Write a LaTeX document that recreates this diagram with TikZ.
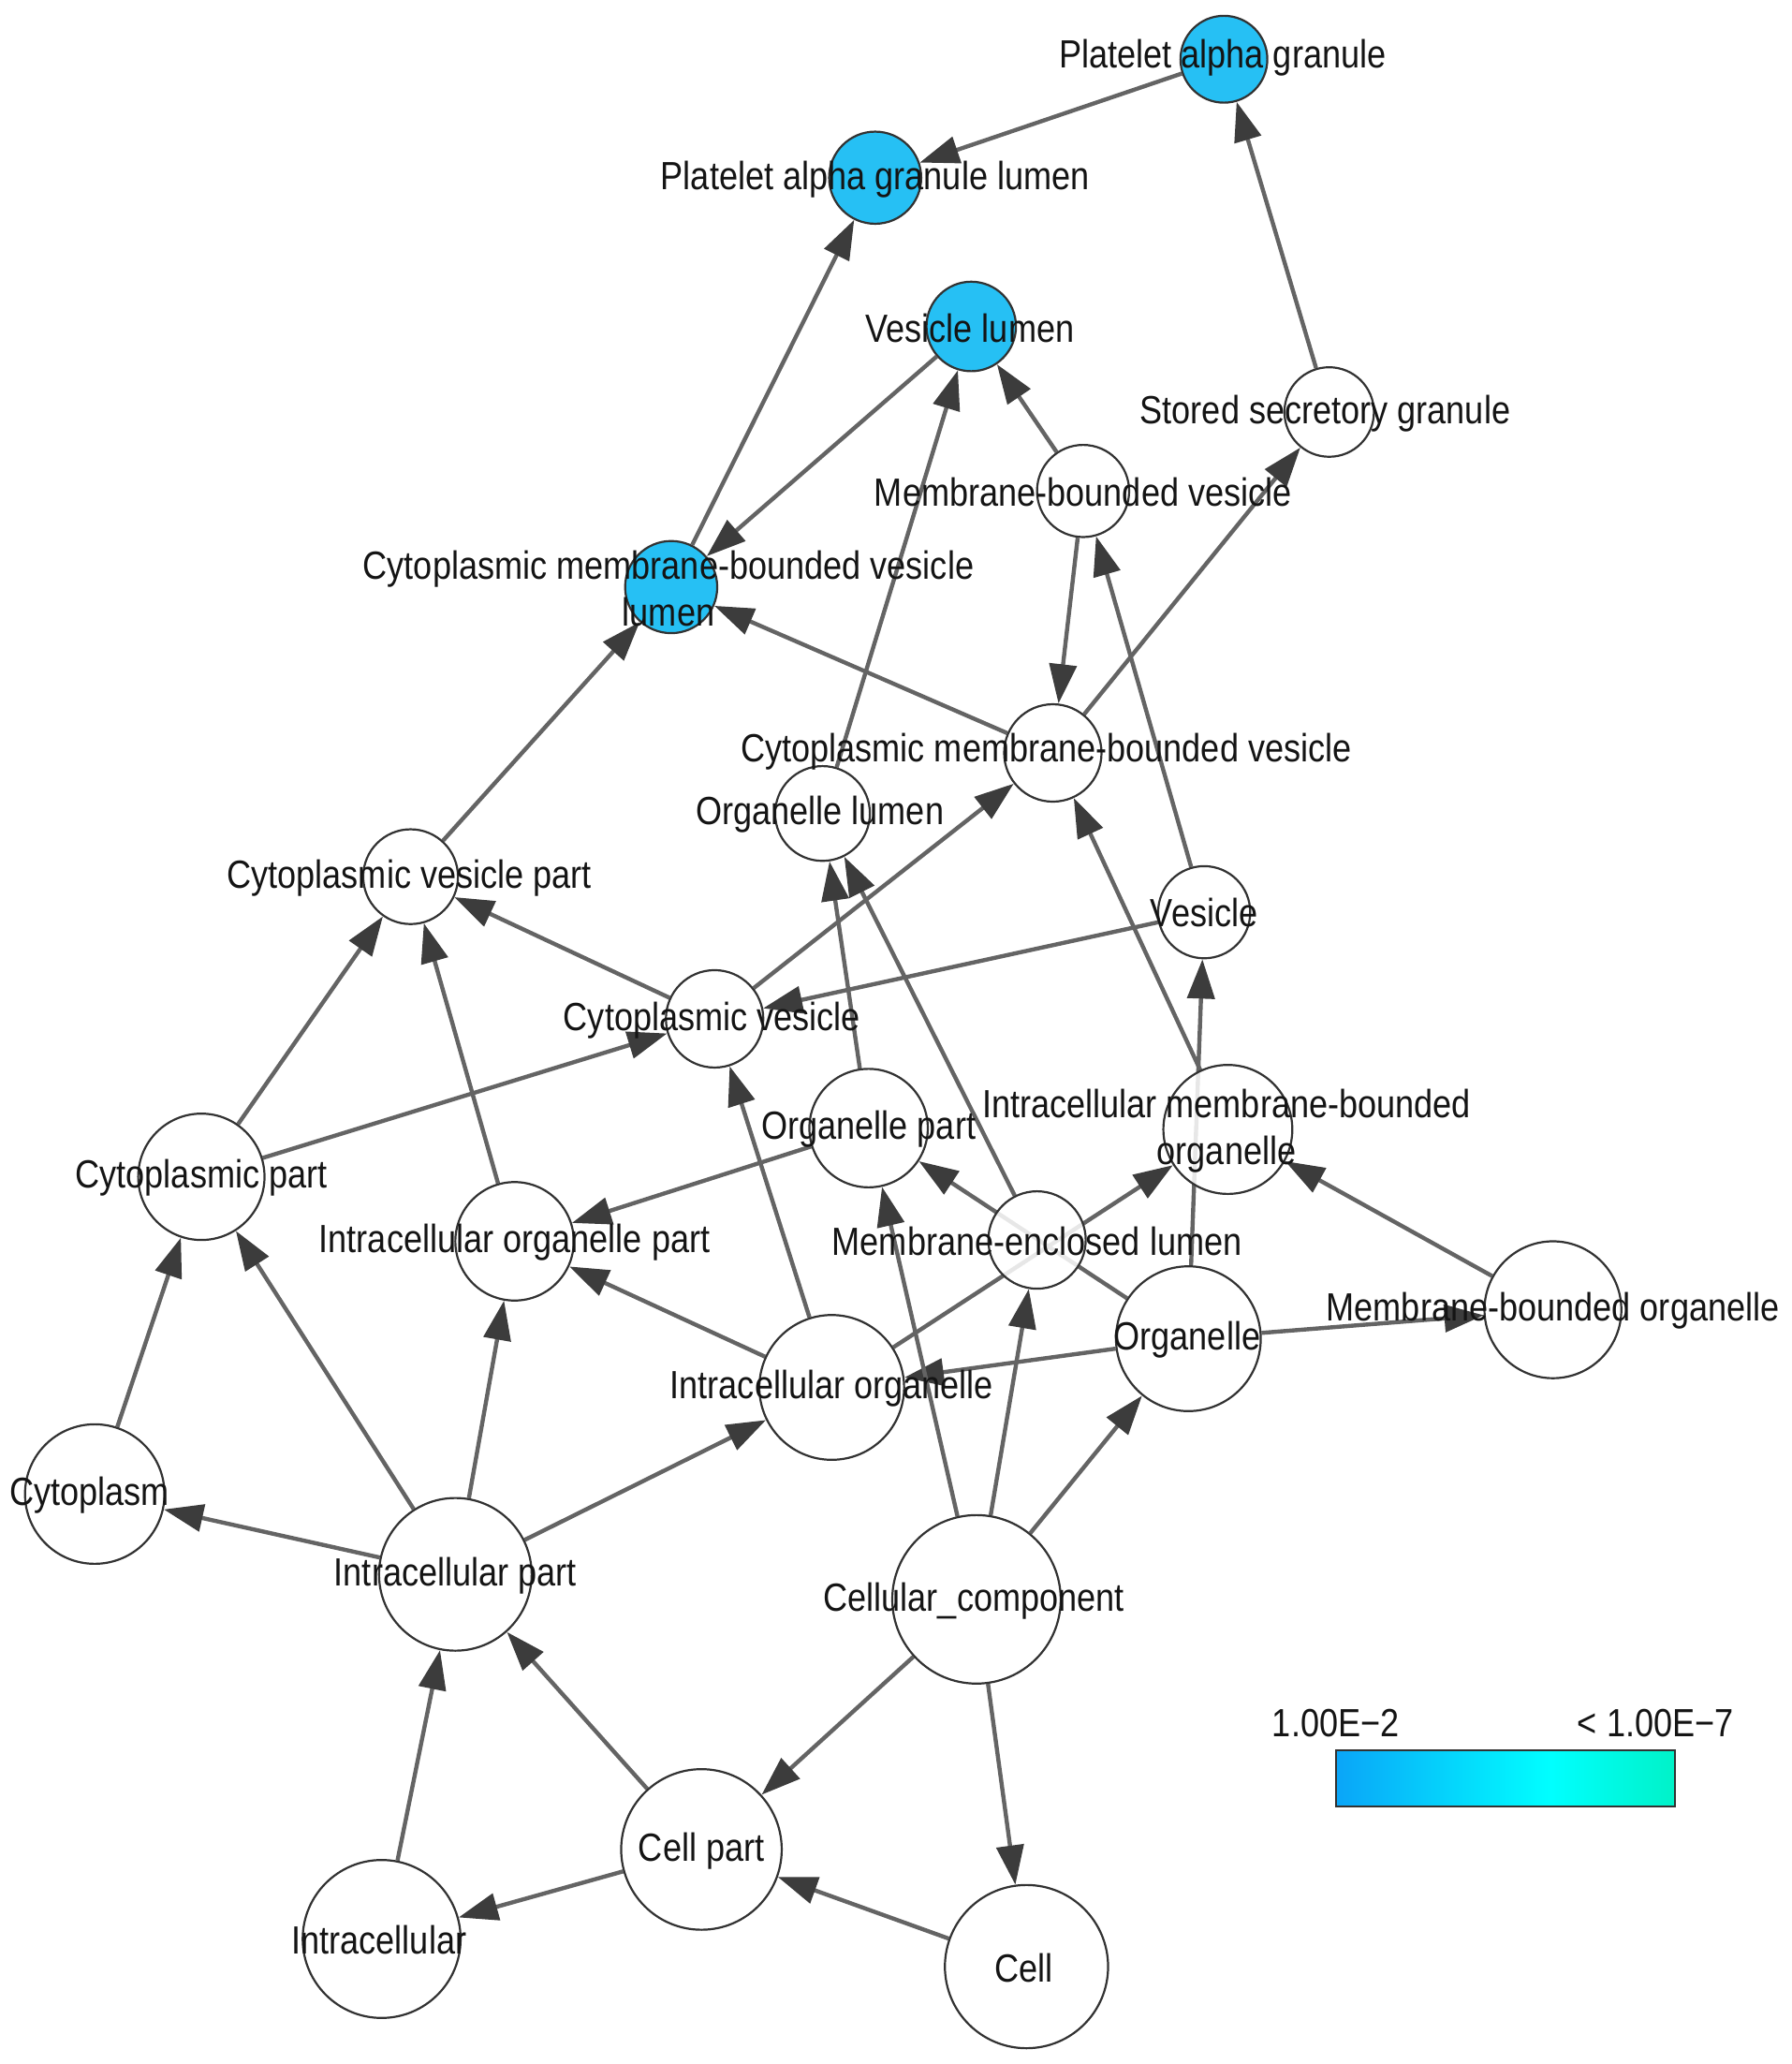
\documentclass[tikz,border=0pt]{standalone}
\usepackage{fontspec}
\setmainfont{Liberation Sans}[FakeStretch=0.86]
\usetikzlibrary{arrows.meta}
\definecolor{gonblue}{RGB}{38,192,244}
\definecolor{edgegray}{RGB}{100,100,100}
\definecolor{tipgray}{RGB}{60,60,60}
\definecolor{rimgray}{RGB}{50,50,50}
\definecolor{legA}{RGB}{10,165,248}
\definecolor{legB}{RGB}{0,255,255}
\definecolor{legC}{RGB}{0,242,200}
\pgfdeclarelayer{edgelayer}
\pgfsetlayers{edgelayer,main}
\begin{document}
\begin{tikzpicture}[x=0.7028pt,y=-0.7028pt,
  gonode/.style={circle,draw=rimgray,line width=1.1pt,fill=white,fill opacity=0.85,inner sep=0pt,minimum size={2*#1*0.7028pt}},
  hitnode/.style={gonode=#1,fill=gonblue,fill opacity=1},
  lbl/.style={text=black!92,font=\fontsize{21}{25}\selectfont,inner sep=0pt,align=center},
  edge/.style={draw=edgegray,line width=2.2pt,-{Triangle[length=21pt,width=14.5pt,color=tipgray,fill=tipgray]}}]
\useasboundingbox (0,0) rectangle (1361,1568);

% ---- nodes ----
\node[hitnode=33] (PAG)  at (930,45)   {};
\node[hitnode=35] (PAGL) at (665,135)  {};
\node[hitnode=34] (VL)   at (738,248)  {};
\node[gonode=34]  (SSG)  at (1010,313) {};
\node[gonode=35]  (MBV)  at (823,373)  {};
\node[hitnode=35] (CMBVL) at (510,446) {};
\node[gonode=37]  (CMBV) at (800,572)  {};
\node[gonode=36]  (OL)   at (625,618)  {};
\node[gonode=36]  (CVP)  at (312,666)  {};
\node[gonode=35]  (VES)  at (915,693)  {};
\node[gonode=37]  (CV)   at (543,774)  {};
\node[gonode=45]  (OP)   at (660,857)  {};
\node[gonode=49]  (IMBO) at (933,858)  {};
\node[gonode=48]  (CP)   at (153,894)  {};
\node[gonode=45]  (IOP)  at (391,943)  {};
\node[gonode=37]  (MEL)  at (788,942)  {};
\node[gonode=55]  (ORG)  at (903,1017) {};
\node[gonode=52]  (MBO)  at (1180,995) {};
\node[gonode=55]  (IO)   at (632,1054) {};
\node[gonode=53]  (CYT)  at (72,1135)  {};
\node[gonode=58]  (IP)   at (346,1196) {};
\node[gonode=64]  (CC)   at (742,1215) {};
\node[gonode=61]  (CPT)  at (533,1405) {};
\node[gonode=60]  (INT)  at (290,1473) {};
\node[gonode=62]  (CELL) at (780,1494) {};

% ---- edges ----
\begin{pgfonlayer}{edgelayer}
\draw[edge] (PAG) -- (PAGL);
\draw[edge] (SSG) -- (PAG);
\draw[edge] (CMBVL) -- (PAGL);
\draw[edge] (VL) -- (CMBVL);
\draw[edge] (OL) -- (VL);
\draw[edge] (MBV) -- (VL);
\draw[edge] (CMBV) -- (SSG);
\draw[edge] (MBV) -- (CMBV);
\draw[edge] (VES) -- (MBV);
\draw[edge] (CMBV) -- (CMBVL);
\draw[edge] (CVP) -- (CMBVL);
\draw[edge] (CV) -- (CMBV);
\draw[edge] (CV) -- (CVP);
\draw[edge] (VES) -- (CV);
\draw[edge] (IMBO) -- (CMBV);
\draw[edge] (ORG) -- (VES);
\draw[edge] (OP) -- (OL);
\draw[edge] (MEL) -- (OL);
\draw[edge] (CP) -- (CV);
\draw[edge] (CP) -- (CVP);
\draw[edge] (IOP) -- (CVP);
\draw[edge] (OP) -- (IOP);
\draw[edge] (IO) -- (CV);
\draw[edge] (IO) -- (IOP);
\draw[edge] (ORG) -- (OP);
\draw[edge] (IO) -- (IMBO);
\draw[edge] (MBO) -- (IMBO);
\draw[edge] (ORG) -- (MBO);
\draw[edge] (ORG) -- (IO);
\draw[edge] (CC) -- (OP);
\draw[edge] (CC) -- (MEL);
\draw[edge] (CC) -- (ORG);
\draw[edge] (CC) -- (CPT);
\draw[edge] (CC) -- (CELL);
\draw[edge] (CELL) -- (CPT);
\draw[edge] (CPT) -- (INT);
\draw[edge] (CPT) -- (IP);
\draw[edge] (INT) -- (IP);
\draw[edge] (IP) -- (CYT);
\draw[edge] (IP) -- (CP);
\draw[edge] (IP) -- (IOP);
\draw[edge] (IP) -- (IO);
\draw[edge] (CYT) -- (CP);
\end{pgfonlayer}

% ---- labels ----
\node[lbl] (PAG-t)  at (929,44)   {Platelet alpha granule};
\node[lbl] (PAGL-t) at (665,136)  {Platelet alpha granule lumen};
\node[lbl] (VL-t)   at (737,249)  {Vesicle lumen};
\node[lbl] (SSG-t)  at (1007,314) {Stored secretory granule};
\node[lbl] (MBV-t)  at (823,374)  {Membrane-bounded vesicle};
\node[lbl] (CMBVL-t) at (508,447) {Cytoplasmic membrane-bounded vesicle\\lumen};
\node[lbl] (CMBV-t) at (795,571)  {Cytoplasmic membrane-bounded vesicle};
\node[lbl] (OL-t)   at (623,619)  {Organelle lumen};
\node[lbl] (CVP-t)  at (311,667)  {Cytoplasmic vesicle part};
\node[lbl] (VES-t)  at (915,693)  {Vesicle};
\node[lbl] (CV-t)   at (541,775)  {Cytoplasmic vesicle};
\node[lbl] (OP-t)   at (660,858)  {Organelle part};
\node[lbl] (IMBO-t) at (932,859)  {Intracellular membrane-bounded\\organelle};
\node[lbl] (CP-t)   at (153,895)  {Cytoplasmic part};
\node[lbl] (IOP-t)  at (391,944)  {Intracellular organelle part};
\node[lbl] (MEL-t)  at (788,943)  {Membrane-enclosed lumen};
\node[lbl] (ORG-t)  at (902,1018) {Organelle};
\node[lbl] (MBO-t)  at (1180,996) {Membrane-bounded organelle};
\node[lbl] (IO-t)   at (632,1055) {Intracellular organelle};
\node[lbl] (CYT-t)  at (68,1136)  {Cytoplasm};
\node[lbl] (IP-t)   at (346,1197) {Intracellular part};
\node[lbl] (CC-t)   at (740,1216) {Cellular\_component};
\node[lbl] (CPT-t)  at (533,1406) {Cell part};
\node[lbl] (INT-t)  at (288,1474) {Intracellular};
\node[lbl] (CELL-t) at (778,1495) {Cell};

% ---- legend ----
\shade[left color=legA,right color=legB] (1015,1330) rectangle (1178,1372);
\shade[left color=legB,right color=legC] (1178,1330) rectangle (1273,1372);
\draw[rimgray,line width=1pt] (1015,1330) rectangle (1273,1372);
\node[lbl] (leg-lo) at (1015,1309) {1.00E−2};
\node[lbl] (leg-hi) at (1258,1309) {< 1.00E−7};
\end{tikzpicture}
\end{document}
